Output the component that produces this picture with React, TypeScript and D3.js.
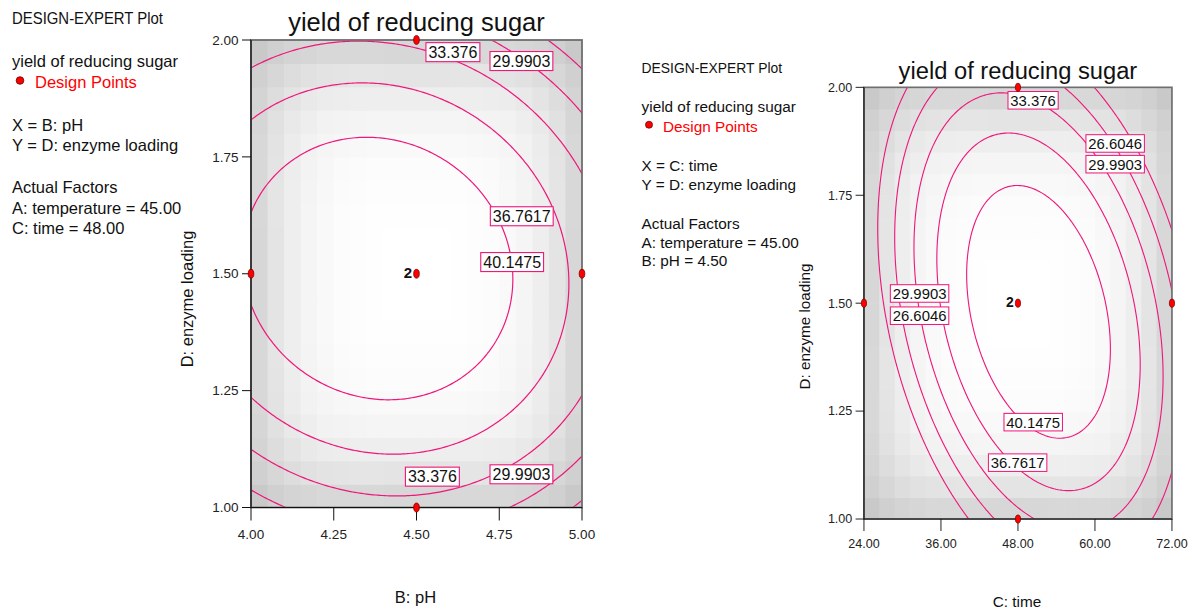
import React from "react";
import * as d3 from "d3";

// Quadratic response-surface model for yield of reducing sugar (coded factor units)
const modelTerms = ["Intercept", "B", "C", "D", "BD", "CD", "B^2", "C^2", "D^2"];
const modelCoefs = [43.25, -2.37, 4.22, 0.2, -1.2, -8.0, -5.1, -17.0, -10.8];

const contourLevels = [26.6046, 29.9903, 33.376, 36.7617, 40.1475];

const phRange = [4.0, 5.0];
const timeRange = [24, 72];
const enzymeRange = [1.0, 2.0];

const phTicks = [4.0, 4.25, 4.5, 4.75, 5.0];
const timeTicks = [24, 36, 48, 60, 72];
const enzymeTicks = [1.0, 1.25, 1.5, 1.75, 2.0];

// Design points lying in each factor plane
const phDesignX = [4.0, 5.0, 4.5, 4.5, 4.5];
const phDesignY = [1.5, 1.5, 2.0, 1.0, 1.5];
const timeDesignX = [24, 72, 48, 48, 48];
const timeDesignY = [1.5, 1.5, 2.0, 1.0, 1.5];
const designReps = [1, 1, 1, 1, 2];

// Contour labels (level, x, enzyme loading)
const phLabelLevels = [33.376, 29.9903, 36.7617, 40.1475, 33.376, 29.9903];
const phLabelX = [4.61, 4.817, 4.818, 4.789, 4.548, 4.817];
const phLabelY = [1.974, 1.955, 1.623, 1.525, 1.066, 1.071];
const timeLabelLevels = [33.376, 26.6046, 29.9903, 29.9903, 26.6046, 40.1475, 36.7617];
const timeLabelX = [50.36, 63.15, 63.15, 32.67, 32.67, 50.38, 47.95];
const timeLabelY = [1.97, 1.87, 1.822, 1.5225, 1.471, 1.2244, 1.1306];

// Relative prediction error used for the background shading: 1, x²+y², x⁴+y⁴, x²y²
const seCoefs = [0, 0.15, 0.85, -0.5];

const phLegend = [
  "DESIGN-EXPERT Plot",
  "yield of reducing sugar",
  "Design Points",
  "X = B: pH",
  "Y = D: enzyme loading",
  "Actual Factors",
  "A: temperature = 45.00",
  "C: time = 48.00",
];
const timeLegend = [
  "DESIGN-EXPERT Plot",
  "yield of reducing sugar",
  "Design Points",
  "X = C: time",
  "Y = D: enzyme loading",
  "Actual Factors",
  "A: temperature = 45.00",
  "B: pH = 4.50",
];

function predict(b: number, c: number, d: number) {
  const [i0, kB, kC, kD, kBD, kCD, kBB, kCC, kDD] = modelCoefs;
  return (
    i0 + kB * b + kC * c + kD * d + kBD * b * d + kCD * c * d + kBB * b * b + kCC * c * c + kDD * d * d
  );
}

function relError(x: number, y: number) {
  const [c0, c2, c4, c22] = seCoefs;
  return c0 + c2 * (x * x + y * y) + c4 * (x ** 4 + y ** 4) + c22 * x * x * y * y;
}

const uncoded = (c: number, r: number[]) => (r[0] + r[1]) / 2 + (c * (r[1] - r[0])) / 2;

const PLOT = { left: 251, right: 582, top: 40, bottom: 507.5 };
const PINK = "#f0167a";
const FONT = "'Liberation Sans', Arial, Helvetica, sans-serif";
const LEGEND_Y = [24, 67, 88, 131, 151, 193, 214, 234];

type PanelCfg = {
  id: string;
  transform: string;
  xRange: number[];
  xTicks: number[];
  xTitle: string;
  designX: number[];
  designY: number[];
  labelLevels: number[];
  labelX: number[];
  labelY: number[];
  legend: string[];
  surface: (cx: number, cy: number) => number;
};

const shade = d3
  .scaleLinear<string>()
  .domain([0, 0.8, 1.4])
  .range(["#ffffff", "#d8d8d8", "#c4c4c4"])
  .clamp(true);

function Panel({ cfg }: { cfg: PanelCfg }) {
  const xScale = d3.scaleLinear().domain(cfg.xRange).range([PLOT.left, PLOT.right]);
  const yScale = d3.scaleLinear().domain(enzymeRange).range([PLOT.bottom, PLOT.top]);

  // fine grid of predictions, slightly wider than the plot so edges are clipped away
  const N = 161;
  const lo = -1.1;
  const hi = 1.1;
  const step = (hi - lo) / (N - 1);
  const values: number[] = new Array(N * N);
  for (let j = 0; j < N; j++) {
    const cy = lo + j * step;
    for (let i = 0; i < N; i++) values[j * N + i] = cfg.surface(lo + i * step, cy);
  }
  const contours = d3.contours().size([N, N]).thresholds(contourLevels)(values);
  const path = d3.geoPath(
    d3.geoTransform({
      point(x: number, y: number) {
        const px = xScale(uncoded(lo + (x - 0.5) * step, cfg.xRange));
        const py = yScale(uncoded(lo + (y - 0.5) * step, enzymeRange));
        (this as any).stream.point(px, py);
      },
    })
  );

  // blocky background shading
  const nc = 20;
  const cells: { x: number; y: number; w: number; h: number; fill: string }[] = [];
  for (let i = 0; i < nc; i++) {
    for (let j = 0; j < nc; j++) {
      const cx0 = -1 + (2 * i) / nc;
      const cx1 = -1 + (2 * (i + 1)) / nc;
      const cy0 = -1 + (2 * j) / nc;
      const cy1 = -1 + (2 * (j + 1)) / nc;
      const x = xScale(uncoded(cx0, cfg.xRange));
      const x2 = xScale(uncoded(cx1, cfg.xRange));
      const y = yScale(uncoded(cy1, enzymeRange));
      const y2 = yScale(uncoded(cy0, enzymeRange));
      cells.push({
        x,
        y,
        w: x2 - x + 0.6,
        h: y2 - y + 0.6,
        fill: shade(relError((cx0 + cx1) / 2, (cy0 + cy1) / 2)),
      });
    }
  }

  const labelWidth = (s: string) => {
    let w = 0;
    for (const ch of s) w += ch === "." ? 0.278 : 0.556;
    return w * 16 + 5;
  };

  const cxMid = (PLOT.left + PLOT.right) / 2;

  return (
    <g transform={cfg.transform} fontFamily={FONT}>
      <defs>
        <clipPath id={`clip-${cfg.id}`}>
          <rect x={PLOT.left} y={PLOT.top} width={PLOT.right - PLOT.left} height={PLOT.bottom - PLOT.top} />
        </clipPath>
      </defs>

      {/* legend block */}
      {cfg.legend.map((t, k) =>
        k === 2 ? (
          <g key={k}>
            <circle cx={20} cy={LEGEND_Y[k] - 7.5} r={3.8} fill="#ff0000" stroke="#600" strokeWidth={0.8} />
            <text x={35} y={LEGEND_Y[k]} fontSize={16.5} fill="#ff0000">
              {t}
            </text>
          </g>
        ) : (
          <text
            key={k}
            x={12}
            y={LEGEND_Y[k]}
            fontSize={16.5}
            fill="#111"
            {...(k === 0 ? { textLength: 151, lengthAdjust: "spacingAndGlyphs" } : {})}
          >
            {t}
          </text>
        )
      )}

      {/* title */}
      <text x={cxMid} y={31} fontSize={25.5} textAnchor="middle" fill="#111">
        yield of reducing sugar
      </text>

      {/* shading and contours */}
      <g clipPath={`url(#clip-${cfg.id})`}>
        {cells.map((c, k) => (
          <rect key={k} x={c.x} y={c.y} width={c.w} height={c.h} fill={c.fill} />
        ))}
        {contours.map((c, k) => (
          <path key={k} d={path(c as any) || ""} fill="none" stroke={PINK} strokeWidth={1.2} />
        ))}
      </g>

      {/* frame */}
      <rect
        x={PLOT.left}
        y={PLOT.top}
        width={PLOT.right - PLOT.left}
        height={PLOT.bottom - PLOT.top}
        fill="none"
        stroke="#6e6e6e"
        strokeWidth={1.8}
      />
      <line x1={PLOT.left} x2={PLOT.left} y1={PLOT.top} y2={PLOT.bottom} stroke="#111" strokeWidth={1.2} />
      <line x1={PLOT.left} x2={PLOT.right} y1={PLOT.bottom} y2={PLOT.bottom} stroke="#111" strokeWidth={1.2} />

      {/* y axis */}
      {enzymeTicks.map((t) => (
        <g key={t}>
          <line x1={PLOT.left - 9} x2={PLOT.left} y1={yScale(t)} y2={yScale(t)} stroke="#111" strokeWidth={1} />
          <text x={PLOT.left - 12.5} y={yScale(t) + 4.7} fontSize={13.5} textAnchor="end" fill="#222">
            {t.toFixed(2)}
          </text>
        </g>
      ))}
      {/* x axis */}
      {cfg.xTicks.map((t) => (
        <g key={t}>
          <line x1={xScale(t)} x2={xScale(t)} y1={PLOT.bottom} y2={PLOT.bottom + 13} stroke="#111" strokeWidth={1} />
          <text x={xScale(t)} y={PLOT.bottom + 31} fontSize={13.5} textAnchor="middle" fill="#222">
            {t.toFixed(2)}
          </text>
        </g>
      ))}

      <text x={cxMid - 1} y={603} fontSize={16.5} textAnchor="middle" fill="#111">
        {cfg.xTitle}
      </text>
      <text transform="translate(193,299) rotate(-90)" fontSize={16.5} textAnchor="middle" fill="#111">
        D: enzyme loading
      </text>

      {/* contour labels */}
      {cfg.labelLevels.map((lv, k) => {
        const s = String(lv);
        const w = labelWidth(s);
        const x = xScale(cfg.labelX[k]);
        const y = yScale(cfg.labelY[k]);
        return (
          <g key={k}>
            <rect x={x - w / 2} y={y - 9.5} width={w} height={19} fill="#fff" stroke={PINK} strokeWidth={1.1} />
            <text x={x} y={y + 5.8} fontSize={16} textAnchor="middle" fill="#111">
              {s}
            </text>
          </g>
        );
      })}

      {/* design points */}
      {cfg.designX.map((dx, k) => (
        <g key={k}>
          <ellipse
            cx={xScale(dx)}
            cy={yScale(cfg.designY[k])}
            rx={2.8}
            ry={4.4}
            fill="#ff0000"
            stroke="#700"
            strokeWidth={0.8}
          />
          {designReps[k] > 1 && (
            <text
              x={xScale(dx) - 4.5}
              y={yScale(cfg.designY[k]) + 4.5}
              fontSize={15}
              fontWeight="bold"
              textAnchor="end"
              fill="#111"
            >
              {designReps[k]}
            </text>
          )}
        </g>
      ))}
    </g>
  );
}

const panels: PanelCfg[] = [
  {
    id: "ph",
    transform: "translate(0,0)",
    xRange: phRange,
    xTicks: phTicks,
    xTitle: "B: pH",
    designX: phDesignX,
    designY: phDesignY,
    labelLevels: phLabelLevels,
    labelX: phLabelX,
    labelY: phLabelY,
    legend: phLegend,
    surface: (x, y) => predict(x, 0, y),
  },
  {
    id: "time",
    transform: "translate(630.4,50.4) scale(0.9305,0.9234)",
    xRange: timeRange,
    xTicks: timeTicks,
    xTitle: "C: time",
    designX: timeDesignX,
    designY: timeDesignY,
    labelLevels: timeLabelLevels,
    labelX: timeLabelX,
    labelY: timeLabelY,
    legend: timeLegend,
    surface: (x, y) => predict(0, x, y),
  },
];

export default function App() {
  return (
    <svg
      width={1192}
      height={611}
      viewBox="0 0 1192 611"
      style={{ position: "absolute", left: 0, top: 0, background: "#fff", display: "block" }}
    >
      <rect width={1192} height={611} fill="#fff" />
      {panels.map((p) => (
        <Panel key={p.id} cfg={p} />
      ))}
    </svg>
  );
}
